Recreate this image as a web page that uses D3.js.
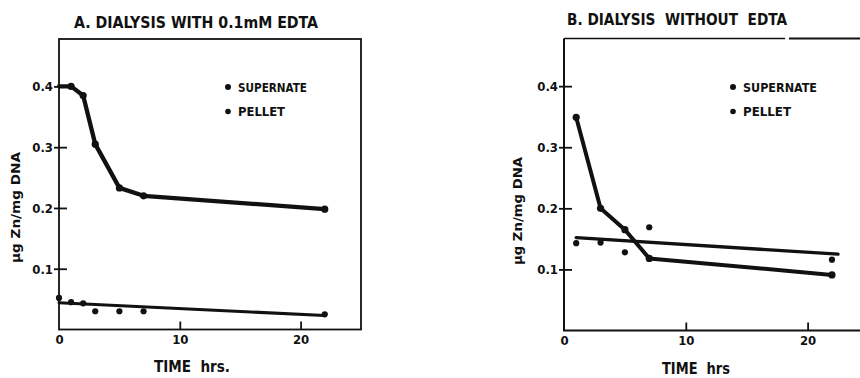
<!DOCTYPE html>
<html>
<head>
<meta charset="utf-8">
<script src="https://cdn.jsdelivr.net/npm/d3@7"></script>
<style>
  body { margin: 0; background: #fff; }
  svg text { font-family: "DejaVu Sans Condensed", "Liberation Sans Narrow", "Liberation Sans", sans-serif; font-weight: bold; fill: #111; }
</style>
</head>
<body>
<svg id="chart" width="860" height="378"></svg>
<script>
// panel A: dialysis with 0.1 mM EDTA
const aSupernateHours = [0, 1, 2, 3, 5, 7, 22];
const aSupernate = [0.400, 0.400, 0.385, 0.305, 0.233, 0.220, 0.198];
const aPelletHours = [0, 1, 2, 3, 5, 7, 22];
const aPellet = [0.052, 0.045, 0.043, 0.030, 0.030, 0.030, 0.025];
const aPelletFitHours = [0, 22];
const aPelletFit = [0.044, 0.023];

// panel B: dialysis without EDTA
const bSupernateHours = [1, 3, 5, 7, 22];
const bSupernate = [0.349, 0.200, 0.165, 0.118, 0.091];
const bPelletHours = [1, 3, 5, 7, 22];
const bPellet = [0.143, 0.144, 0.128, 0.169, 0.116];
const bPelletFitHours = [1, 22.5];
const bPelletFit = [0.152, 0.125];

const xTicks = [0, 10, 20];
const yTicks = [0.1, 0.2, 0.3, 0.4];
const legendLabels = ['SUPERNATE', 'PELLET'];

const zip = (ts, vs) => ts.map((t, i) => ({t, v: vs[i]}));
const svg = d3.select('#chart');

function panel(opts) {
  const x = d3.scaleLinear().domain([0, 25]).range(opts.xRange);
  const y = d3.scaleLinear().domain([0, 0.478]).range(opts.yRange);
  const g = svg.append('g');

  // frame
  const [x0, x1] = opts.xRange;
  const [yb, yt] = opts.yRange;
  if (opts.boxed) {
    g.append('rect').attr('x', x0).attr('y', yt).attr('width', x1 - x0).attr('height', yb - yt)
      .attr('fill', 'none').attr('stroke', '#111').attr('stroke-width', 1.8);
  } else {
    g.append('line').attr('x1', x0).attr('x2', x0).attr('y1', yt).attr('y2', yb)
      .attr('stroke', '#111').attr('stroke-width', 2);
    g.append('line').attr('x1', x0 - 1).attr('x2', 860).attr('y1', yb).attr('y2', yb)
      .attr('stroke', '#111').attr('stroke-width', 2);
    g.append('line').attr('x1', x0).attr('x2', 785).attr('y1', yt).attr('y2', yt)
      .attr('stroke', '#111').attr('stroke-width', 1.6);
    g.append('line').attr('x1', 789).attr('x2', 860).attr('y1', yt).attr('y2', yt)
      .attr('stroke', '#111').attr('stroke-width', 1.8);
  }

  // axes with inward ticks
  const yAxis = g.append('g').attr('transform', `translate(${x0},0)`)
    .call(d3.axisRight(y).tickValues(yTicks).tickSize(8).tickFormat(d3.format('.1f')));
  yAxis.select('.domain').remove();
  yAxis.selectAll('.tick line').attr('x1', -5).attr('stroke', '#111').attr('stroke-width', 1.8);
  yAxis.selectAll('.tick text').attr('x', -6).attr('text-anchor', 'end').attr('dy', '0.35em')
    .style('font-size', '13px');

  const xAxis = g.append('g').attr('transform', `translate(0,${yb})`)
    .call(d3.axisTop(x).tickValues(xTicks).tickSize(8).tickFormat(d3.format('d')));
  xAxis.select('.domain').remove();
  xAxis.selectAll('.tick line').attr('stroke', '#111').attr('stroke-width', 1.8)
    .attr('display', d => d === 0 ? 'none' : null);
  xAxis.selectAll('.tick text').attr('y', 14).attr('dy', 0)
    .style('font-size', '13px');

  const line = d3.line().x(d => x(d.t)).y(d => y(d.v));

  // supernate: connected points
  g.append('path').datum(opts.supernate).attr('d', line)
    .attr('fill', 'none').attr('stroke', '#111').attr('stroke-width', opts.supW)
    .attr('stroke-linejoin', 'round').attr('stroke-linecap', 'round');
  g.append('g').selectAll('circle').data(opts.supernate.filter(d => d.t > 0)).join('circle')
    .attr('cx', d => x(d.t)).attr('cy', d => y(d.v)).attr('r', 3.6).attr('fill', '#111');

  // pellet: points plus fitted line
  g.append('path').datum(opts.pelletFit).attr('d', line)
    .attr('fill', 'none').attr('stroke', '#111').attr('stroke-width', opts.pelW)
    .attr('stroke-linecap', 'round');
  g.append('g').selectAll('circle').data(opts.pellet).join('circle')
    .attr('cx', d => x(d.t)).attr('cy', d => y(d.v)).attr('r', 3.1).attr('fill', '#111');

  // legend
  const leg = g.append('g').selectAll('g').data(legendLabels).join('g')
    .attr('transform', (d, i) => `translate(${opts.legend[0]},${opts.legend[1] + i * 24.5})`);
  leg.append('circle').attr('r', (d, i) => i === 0 ? 3 : 2.8).attr('fill', '#111');
  leg.append('text').attr('x', 10).attr('y', 4.5).style('font-size', '12px')
    .attr('textLength', (d, i) => opts.legendW[i]).attr('lengthAdjust', 'spacingAndGlyphs')
    .text(d => d);

  // titles
  g.append('text').attr('x', opts.title.x).attr('y', opts.title.y).style('font-size', '15px')
    .attr('textLength', opts.title.w).attr('lengthAdjust', 'spacingAndGlyphs')
    .attr('xml:space', 'preserve').text(opts.title.text);
  g.append('text').attr('x', opts.xTitle.x).attr('y', opts.xTitle.y).style('font-size', '15px')
    .attr('textLength', opts.xTitle.w).attr('lengthAdjust', 'spacingAndGlyphs')
    .attr('xml:space', 'preserve').text(opts.xTitle.text);
  g.append('text')
    .attr('transform', `translate(${opts.yTitle.x},${opts.yTitle.y}) rotate(-90)`)
    .attr('text-anchor', 'middle').style('font-size', '13px')
    .attr('textLength', opts.yTitle.w).attr('lengthAdjust', 'spacingAndGlyphs')
    .text('µg Zn/mg DNA');
}

panel({
  xRange: [59, 361], yRange: [329.5, 39], boxed: true,
  supernate: zip(aSupernateHours, aSupernate),
  pellet: zip(aPelletHours, aPellet),
  pelletFit: zip(aPelletFitHours, aPelletFit),
  supW: 4.3, pelW: 3,
  legend: [228, 87], legendW: [69, 47],
  title: {x: 74, y: 28, w: 244, text: 'A. DIALYSIS WITH 0.1mM EDTA'},
  xTitle: {x: 154, y: 372, w: 76, text: 'TIME  hrs.'},
  yTitle: {x: 20, y: 207.5, w: 111}
});

panel({
  xRange: [564, 868.5], yRange: [330.5, 38.5], boxed: false,
  supernate: zip(bSupernateHours, bSupernate),
  pellet: zip(bPelletHours, bPellet),
  pelletFit: zip(bPelletFitHours, bPelletFit),
  supW: 4, pelW: 3.3,
  legend: [733, 87], legendW: [74, 48],
  title: {x: 567, y: 25, w: 220, text: 'B. DIALYSIS  WITHOUT  EDTA'},
  xTitle: {x: 662, y: 374, w: 68, text: 'TIME  hrs'},
  yTitle: {x: 522, y: 211, w: 108}
});
</script>
</body>
</html>
